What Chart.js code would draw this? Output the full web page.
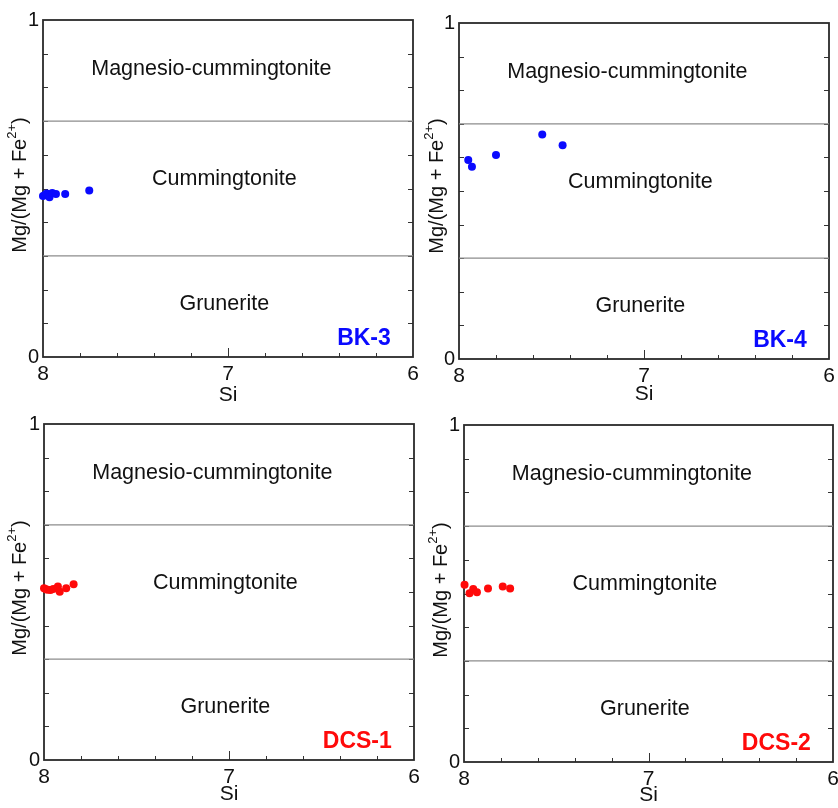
<!DOCTYPE html>
<html><head><meta charset="utf-8">
<script src="https://cdn.jsdelivr.net/npm/chart.js@4.4.0/dist/chart.umd.min.js"></script>
<style>
html,body{margin:0;padding:0;background:#fff;}
#wrap{position:relative;width:838px;height:808px;overflow:hidden;}
.panel{position:absolute;width:419px;height:404px;}
canvas{display:block;}
</style></head><body>
<div id="wrap">
<div class="panel" style="left:0;top:0"><canvas id="c1" width="419" height="404"></canvas></div>
<div class="panel" style="left:419px;top:0"><canvas id="c2" width="419" height="404"></canvas></div>
<div class="panel" style="left:0;top:404px"><canvas id="c3" width="419" height="404"></canvas></div>
<div class="panel" style="left:419px;top:404px"><canvas id="c4" width="419" height="404"></canvas></div>
</div>
<script>
// ---- data ----
const siBK3 = [8.00, 7.99, 7.98, 7.965, 7.95, 7.93, 7.88, 7.75];
const mgBK3 = [0.478, 0.481, 0.485, 0.474, 0.487, 0.484, 0.484, 0.494];
const siBK4 = [7.95, 7.93, 7.80, 7.55, 7.44];
const mgBK4 = [0.592, 0.572, 0.607, 0.668, 0.636];
const siDCS1 = [8.00, 7.99, 7.98, 7.965, 7.95, 7.925, 7.915, 7.88, 7.84];
const mgDCS1 = [0.511, 0.508, 0.507, 0.506, 0.509, 0.516, 0.501, 0.511, 0.523];
const siDCS2 = [7.997, 7.97, 7.95, 7.93, 7.87, 7.79, 7.75];
const mgDCS2 = [0.526, 0.501, 0.513, 0.504, 0.515, 0.521, 0.515];

const sampleNames = ['BK-3', 'BK-4', 'DCS-1', 'DCS-2'];
const boundaries = [0.7, 0.3];
const regionNames = ['Magnesio-cummingtonite', 'Cummingtonite', 'Grunerite'];
const xTickLabels = [8, 7, 6];
const yTickLabels = [0, 1];
const xTitle = 'Si';

// ---- styling / layout ----
const FONT = '"Liberation Sans", Arial, Helvetica, sans-serif';
const regionPos = [{x: 7.09, y: 0.853}, {x: 7.02, y: 0.527}, {x: 7.02, y: 0.158}];
const samplePos = {x: 6.12, y: 0.055};

function drawYTitle(ctx, cx, cy) {
  const fs = 20;
  const a = 'Mg/(Mg + Fe', sup = '2+', b = ')';
  ctx.save();
  ctx.translate(cx, cy);
  ctx.rotate(-Math.PI / 2);
  ctx.fillStyle = '#111';
  ctx.textBaseline = 'middle';
  ctx.textAlign = 'left';
  ctx.font = fs + 'px ' + FONT;
  const wa = ctx.measureText(a).width, wb = ctx.measureText(b).width;
  ctx.font = (fs * 0.65) + 'px ' + FONT;
  const ws = ctx.measureText(sup).width;
  let x = -(wa + ws + wb) / 2;
  ctx.font = fs + 'px ' + FONT;
  ctx.fillText(a, x, 0);
  x += wa;
  ctx.font = (fs * 0.65) + 'px ' + FONT;
  ctx.fillText(sup, x, -fs * 0.38);
  x += ws;
  ctx.font = fs + 'px ' + FONT;
  ctx.fillText(b, x, 0);
  ctx.restore();
}

const framePlugin = {
  id: 'frame',
  beforeDatasetsDraw(chart) {
    const {ctx, chartArea: ca, scales: {x, y}} = chart;
    ctx.save();
    ctx.strokeStyle = '#333';
    ctx.lineWidth = 1;
    ctx.beginPath();
    for (let i = 1; i <= 9; i++) {
      const py = Math.round(y.getPixelForValue(i / 10)) + 0.5;
      ctx.moveTo(ca.left, py); ctx.lineTo(ca.left + 5, py);
      ctx.moveTo(ca.right, py); ctx.lineTo(ca.right - 5, py);
    }
    for (let i = 1; i <= 9; i++) {
      const v = 6 + i * 0.2;
      const len = (i === 5) ? 9 : 4;
      const px = Math.round(x.getPixelForValue(v)) + 0.5;
      ctx.moveTo(px, ca.bottom); ctx.lineTo(px, ca.bottom - len);
    }
    ctx.stroke();
    ctx.lineWidth = 1.8;
    ctx.strokeStyle = '#2a2a2a';
    ctx.strokeRect(ca.left, ca.top, ca.right - ca.left, ca.bottom - ca.top);
    ctx.restore();
  },
  afterDraw(chart) {
    const {ctx, scales: {x, y}} = chart;
    const o = chart.options.plugins.frame;
    ctx.save();
    ctx.fillStyle = '#111';
    ctx.textAlign = 'center';
    ctx.textBaseline = 'middle';
    ctx.font = '21.5px ' + FONT;
    regionNames.forEach((n, i) => {
      ctx.fillText(n, x.getPixelForValue(regionPos[i].x), y.getPixelForValue(regionPos[i].y));
    });
    ctx.font = 'bold 23px ' + FONT;
    ctx.fillStyle = o.color;
    ctx.textAlign = 'right';
    ctx.fillText(o.sample, x.getPixelForValue(samplePos.x), y.getPixelForValue(samplePos.y));
    ctx.restore();
    drawYTitle(ctx, o.ytx, o.yty);
  }
};

function makeChart(id, si, mg, color, sample, area, ytx, yty, siY) {
  const W = 419, H = 404;
  const pts = si.map((v, i) => ({x: v, y: mg[i]}));
  const lineSets = boundaries.map(b => ({
    data: [{x: 8, y: b}, {x: 6, y: b}], showLine: true, borderColor: '#8c8c8c',
    borderWidth: 1.2, pointRadius: 0, fill: false
  }));
  new Chart(document.getElementById(id), {
    type: 'scatter',
    data: {datasets: [{data: pts, backgroundColor: color, borderColor: color, pointRadius: 4, borderWidth: 0, clip: false}, ...lineSets]},
    options: {
      responsive: false, animation: false, devicePixelRatio: 1,
      layout: {padding: {top: area.top, right: W - area.right, left: 0, bottom: 0}},
      plugins: {legend: {display: false}, tooltip: {enabled: false}, frame: {color, sample, ytx, yty}},
      scales: {
        x: {
          type: 'linear', reverse: true, min: 6, max: 8,
          grid: {display: false, drawTicks: false, tickLength: 0}, border: {display: false},
          afterBuildTicks: s => { s.ticks = xTickLabels.map(v => ({value: v})); },
          ticks: {font: {size: 21, family: FONT}, color: '#111', padding: 5, maxRotation: 0, autoSkip: false},
          title: {display: true, text: xTitle, font: {size: 21, family: FONT, lineHeight: 1}, color: '#111',
                  padding: {top: 0, bottom: H - 10.5 - siY}},
          afterFit: s => { s.height = H - area.bottom; s.paddingLeft = 0; s.paddingRight = 0; }
        },
        y: {
          type: 'linear', min: 0, max: 1,
          grid: {display: false, drawTicks: false, tickLength: 0}, border: {display: false},
          afterBuildTicks: s => { s.ticks = yTickLabels.map(v => ({value: v})); },
          ticks: {font: {size: 20, family: FONT}, color: '#111', padding: 4},
          afterFit: s => { s.width = area.left; s.paddingTop = 0; s.paddingBottom = 0; }
        }
      }
    },
    plugins: [framePlugin]
  });
}

makeChart('c1', siBK3, mgBK3, '#0a0aff', sampleNames[0], {left: 43, top: 20, right: 413, bottom: 357}, 20, 185, 395);
makeChart('c2', siBK4, mgBK4, '#0a0aff', sampleNames[1], {left: 40, top: 23, right: 410, bottom: 359}, 18, 186, 394);
makeChart('c3', siDCS1, mgDCS1, '#ff0a0a', sampleNames[2], {left: 44, top: 20, right: 414, bottom: 356}, 20.5, 184, 390);
makeChart('c4', siDCS2, mgDCS2, '#ff0a0a', sampleNames[3], {left: 45, top: 21, right: 414, bottom: 358}, 22, 186, 391);
</script>
</body></html>
